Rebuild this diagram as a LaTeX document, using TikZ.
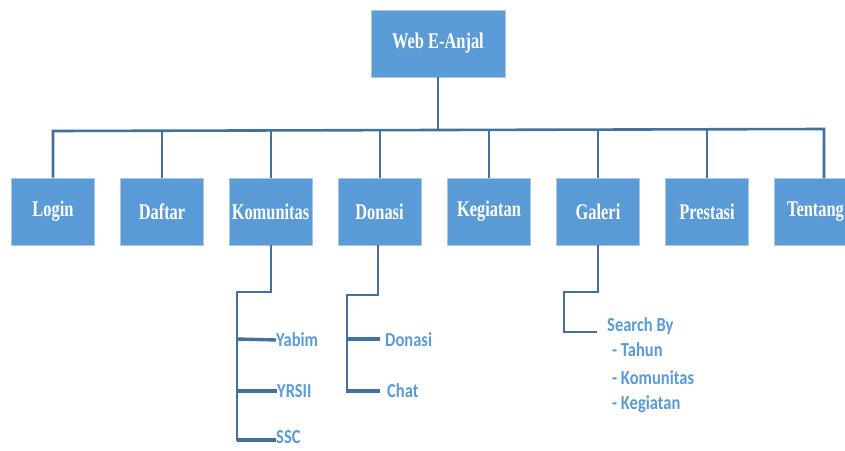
\documentclass[tikz,border=0pt]{standalone}
\usepackage{fontspec}
\setmainfont{Liberation Serif}
\newfontfamily\lblfont{Carlito}
\definecolor{boxblue}{HTML}{5B9BD5}
\definecolor{boxedge}{HTML}{A8C8E8}
\definecolor{linkblue}{HTML}{41719C}
\definecolor{lbltext}{HTML}{5B9BD5}
\tikzset{
  menubox/.style={fill=boxblue, draw=boxedge, line width=0.8pt, minimum width=83pt, minimum height=67pt, inner sep=0pt,
    text=white, font=\fontsize{20}{20}\selectfont\bfseries},
  link/.style={draw=linkblue, line width=2.6pt},
  branch/.style={draw=linkblue, line width=3.4pt},
  lbl/.style={text=lbltext, font=\lblfont\fontsize{16.5}{16.5}\selectfont\bfseries, inner sep=0pt, anchor=west},
}
\newcommand{\cond}[1]{\scalebox{0.82}[1.12]{#1}}
\newcommand{\tall}[1]{\scalebox{1}[1.2]{#1}}
\begin{document}
\begin{tikzpicture}[x=1pt,y=-1pt]
\useasboundingbox (0,0) rectangle (845,450);
\clip (0,0) rectangle (845,450);
\fill[white] (0,0) rectangle (845,450);
% root
\node[menubox, minimum width=134pt] (root) at (438,43.5) {\cond{Web E-Anjal}};
% row
\node[menubox] (login) at (53,211.5) {\cond{Login}};
\node[menubox] (daftar) at (162,211.5) {\cond{Daftar}};
\node[menubox] (kom) at (270.5,211.5) {\cond{Komunitas}};
\node[menubox] (don) at (379.5,211.5) {\cond{Donasi}};
\node[menubox] (keg) at (489,211.5) {\cond{Kegiatan}};
\node[menubox] (gal) at (598,211.5) {\cond{Galeri}};
\node[menubox] (pre) at (707,211.5) {\cond{Prestasi}};
\node[menubox] (ten) at (815.5,211.5) {\cond{Tentang}};
% bus
\coordinate (busL) at (53,131);
\coordinate (busR) at (824,129);
\coordinate (tenTop) at (824,178);
\draw[link] (root.south) -- (438,130);
\draw[link, line join=miter] (login.north) -- (busL) -- (busR) -- (tenTop);
\foreach \n/\x in {daftar/162, kom/271, don/380, keg/489, gal/598, pre/707}
  \draw[link] (\x,178) -- (\x,130);
% Komunitas children
\node[lbl] (yabim) at (276,340) {\tall{Yabim}};
\node[lbl] (yrsii) at (277,391) {\tall{YRSII}};
\node[lbl] (ssc) at (276,437) {\tall{SSC}};
\coordinate (k1) at (271,292);
\coordinate (k2) at (237,292);
\coordinate (k3) at (237,441);
\draw[link, line join=miter] (271,245) -- (k1) -- (k2) -- (k3);
\draw[branch] (237,339) -- (yabim.west);
\draw[branch] (237,391) -- (yrsii.west);
\draw[branch] (237,440) -- (ssc.west |- 0,440);
% Donasi children
\node[lbl] (dondon) at (385,340) {\tall{Donasi}};
\node[lbl] (chat) at (387,391) {\tall{Chat}};
\coordinate (d1) at (378,295);
\coordinate (d2) at (347,295);
\draw[link, line join=miter] (378,245) -- (d1) -- (d2) -- (347,391);
\draw[branch] (346,339) -- (380,339);
\draw[branch] (346,391) -- (380,391);
% Galeri children
\node[lbl] (search) at (607,326) {\tall{Search By}};
\node[lbl] (tahun) at (612,350) {\tall{- Tahun}};
\node[lbl] (komu) at (612,378) {\tall{- Komunitas}};
\node[lbl] (kegi) at (612,404) {\tall{- Kegiatan}};
\coordinate (g1) at (598,292);
\coordinate (g2) at (564,292);
\draw[link, line join=miter] (598,245) -- (g1) -- (g2) -- (564,332) -- (597,332);
\end{tikzpicture}
\end{document}
